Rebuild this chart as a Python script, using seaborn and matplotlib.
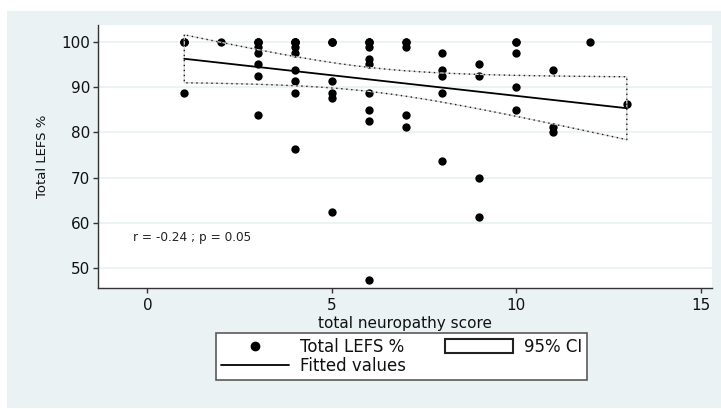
import numpy as np
import pandas as pd
import matplotlib
matplotlib.use("Agg")
import matplotlib.pyplot as plt
from matplotlib.patches import Rectangle, Patch
from matplotlib.lines import Line2D
import seaborn as sns

# Total neuropathy score (x) and Total LEFS % (y) for each participant;
# several participants share identical values and overlap on the plot.
neuropathy_score = [
    1, 1, 1, 1,
    2,
    3, 3, 3, 3, 3, 3, 3, 3,
    4, 4, 4, 4, 4, 4, 4, 4, 4, 4,
    5, 5, 5, 5, 5, 5, 5,
    6, 6, 6, 6, 6, 6, 6, 6, 6, 6,
    7, 7, 7, 7, 7,
    8, 8, 8, 8, 8,
    9, 9, 9, 9,
    10, 10, 10, 10, 10,
    11, 11, 11,
    12,
    13,
]
lefs_pct = [
    100, 100, 100, 88.75,
    100,
    100, 100, 100, 98.75, 97.5, 95, 92.5, 83.75,
    100, 100, 100, 100, 98.75, 97.5, 93.75, 91.25, 88.75, 76.25,
    100, 100, 100, 91.25, 88.75, 87.5, 62.5,
    100, 100, 100, 98.75, 96.25, 95, 88.75, 85, 82.5, 47.5,
    100, 100, 98.75, 83.75, 81.25,
    97.5, 93.75, 92.5, 88.75, 73.75,
    95, 92.5, 70, 61.25,
    100, 100, 97.5, 90, 85,
    93.75, 81.25, 80,
    100,
    86.25,
]

x_ticks = [0, 5, 10, 15]
y_ticks = [50, 60, 70, 80, 90, 100]
stats_text = "r = -0.24 ; p = 0.05"

BG = "#eaf2f3"

sns.set_theme(style="ticks")
plt.rcParams["font.family"] = ["DejaVu Sans"]

df = pd.DataFrame({"score": neuropathy_score, "lefs": lefs_pct})

# ordinary least squares fit with a 95% confidence band for the mean
x = df["score"].to_numpy(float)
y = df["lefs"].to_numpy(float)
n = len(x)
slope, intercept = np.polyfit(x, y, 1)
resid = y - (intercept + slope * x)
s = np.sqrt(np.sum(resid ** 2) / (n - 2))
mx = x.mean()
sxx = np.sum((x - mx) ** 2)


def t975(dof):
    z = 1.959963985
    g1 = (z ** 3 + z) / 4
    g2 = (5 * z ** 5 + 16 * z ** 3 + 3 * z) / 96
    g3 = (3 * z ** 7 + 19 * z ** 5 + 17 * z ** 3 - 15 * z) / 384
    return z + g1 / dof + g2 / dof ** 2 + g3 / dof ** 3


xs = np.linspace(x.min(), x.max(), 200)
fit = intercept + slope * xs
half = t975(n - 2) * s * np.sqrt(1 / n + (xs - mx) ** 2 / sxx)
fit_df = pd.DataFrame({"score": xs, "fit": fit})

fig = plt.figure(figsize=(7.21, 4.09), dpi=100, facecolor="white")
fig.patches.append(Rectangle((7 / 721, 1 / 409), 714 / 721, 397 / 409,
                             transform=fig.transFigure, facecolor=BG,
                             edgecolor="none", zorder=-5))

ax = fig.add_axes([98 / 721, 1 - 288 / 409, 614 / 721, 263 / 409])
ax.set_zorder(1)
ax.set_facecolor("white")

sns.scatterplot(data=df, x="score", y="lefs", ax=ax, color="black",
                s=36, linewidth=0, legend=False, zorder=3)

# confidence band outline: faint solid edge with a dotted edge on top
ax.fill_between(xs, fit - half, fit + half, facecolor="none",
                edgecolor="#d4d4d4", linewidth=0.9, zorder=4)
ax.fill_between(xs, fit - half, fit + half, facecolor="none",
                edgecolor="#222222", linewidth=1.0,
                linestyle=(0, (1, 2.6)), zorder=4.5)

sns.lineplot(data=fit_df, x="score", y="fit", ax=ax, color="black",
             linewidth=1.3, legend=False, zorder=5)

ax.set_xlim(-1.34, 15.31)
ax.set_ylim(45.65, 103.7)
ax.set_xticks(x_ticks)
ax.set_yticks(y_ticks)
ax.set_yticklabels([str(v) for v in y_ticks])
ax.yaxis.grid(True, color=BG, linewidth=1.3)
ax.xaxis.grid(False)
ax.set_axisbelow(True)

for side in ("top", "right"):
    ax.spines[side].set_visible(False)
for side in ("left", "bottom"):
    ax.spines[side].set_color("#333333")
    ax.spines[side].set_linewidth(1.0)

ax.tick_params(axis="both", direction="out", length=3.8, width=1.0,
               color="#333333", labelsize=11, labelcolor="#111111")
ax.tick_params(axis="y", pad=2)
ax.tick_params(axis="x", pad=3.5)

ax.set_xlabel("total neuropathy score", fontsize=11, color="#111111",
              labelpad=2)
ax.set_ylabel("Total LEFS %", fontsize=9.5, color="#111111", labelpad=9)

ax.text(-0.40, 56.85, stats_text, fontsize=8.7, color="#222222",
        ha="left", va="center")

handles = [
    Line2D([], [], marker="o", color="black", linestyle="none",
           markersize=6),
    Line2D([], [], color="black", linewidth=1.3),
    Patch(facecolor="white", edgecolor="#222222", linewidth=1.5),
]
labels = ["Total LEFS %", "Fitted values", "95% CI"]
leg = fig.legend(handles, labels, loc="upper left",
                 bbox_to_anchor=(216 / 721, 1 - 333 / 409), ncol=2,
                 fontsize=12, frameon=True, fancybox=False, shadow=False,
                 framealpha=1, edgecolor="#5a5a5a", borderpad=0.3,
                 handlelength=4.1, handleheight=0.9, handletextpad=0.65,
                 columnspacing=2.3, labelspacing=0.05, borderaxespad=0)
leg.get_frame().set_linewidth(1.2)
for t in leg.get_texts():
    t.set_color("#111111")

fig.savefig("out.png", dpi=100, facecolor="white")
